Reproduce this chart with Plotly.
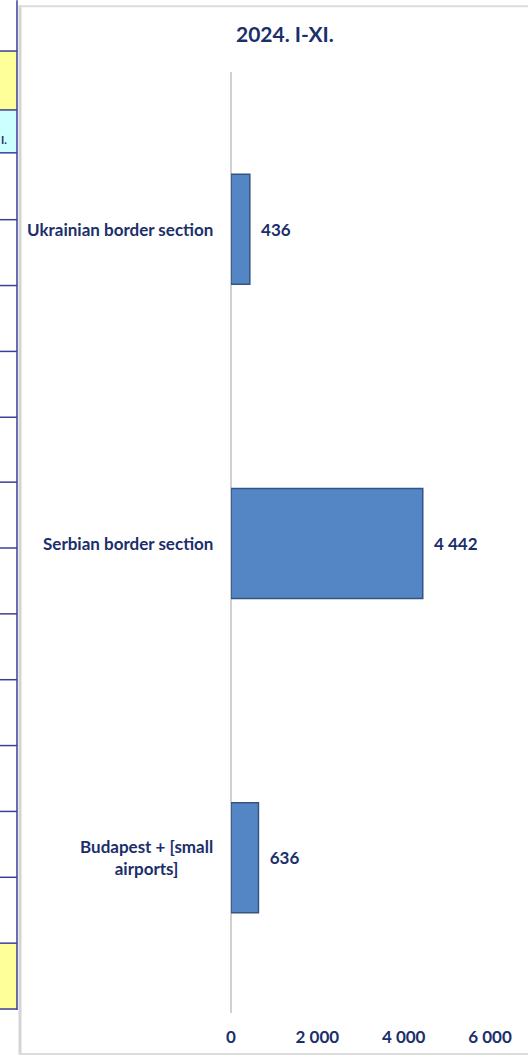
import plotly.graph_objects as go

# Data
categories = ["Ukrainian border section", "Serbian border section", "Budapest + [small<br>airports]"]
values = [436, 4442, 636]
value_labels = ["436", "4 442", "636"]
tick_vals = [0, 2000, 4000, 6000]
tick_text = ["0", "2 000", "4 000", "6 000"]
title_text = "2024. I-XI."

W, H = 528, 1059
L, R, T, B = 231, 490, 72, 1017  # plot area in pixels

NAVY = "#1b2f6b"
FONT = "Lato"

def px(x):
    return (x - L) / (R - L)

def py(y):
    return (B - y) / (B - T)

fig = go.Figure()
fig.add_trace(go.Bar(
    y=categories,
    x=values,
    orientation="h",
    width=0.35,
    marker=dict(color="#5486c6", line=dict(color="#34557f", width=1.5)),
    text=["\u00a0\u00a0" + t for t in value_labels],
    textposition="outside",
    textfont=dict(family=FONT, size=17, color=NAVY, weight="bold"),
    cliponaxis=False,
    hoverinfo="skip",
))

shapes = []
# chart frame (light gray)
shapes.append(dict(type="line", xref="paper", yref="paper",
                   x0=px(20), x1=px(20), y0=py(5), y1=py(1057),
                   line=dict(color="#d4d4d4", width=3), layer="below"))
shapes.append(dict(type="line", xref="paper", yref="paper",
                   x0=px(19), x1=px(530), y0=py(6), y1=py(6),
                   line=dict(color="#dcdcdc", width=2), layer="below"))
shapes.append(dict(type="line", xref="paper", yref="paper",
                   x0=px(19), x1=px(530), y0=py(1056), y1=py(1056),
                   line=dict(color="#dcdcdc", width=2), layer="below"))
# vertical axis line
shapes.append(dict(type="line", xref="paper", yref="paper",
                   x0=0, x1=0, y0=py(72), y1=py(1015),
                   line=dict(color="#d0d0d0", width=2), layer="below"))

# left spreadsheet strip
cell_lines = [51, 110, 153, 220, 286, 352, 418, 483, 549, 615, 681, 747, 813, 879, 945, 1011]
fills = {0: "#ffff99", 1: "#ccffff", 14: "#ffff99"}
for i in range(len(cell_lines) - 1):
    c = fills.get(i)
    if c:
        shapes.append(dict(type="rect", xref="paper", yref="paper",
                           x0=px(-2), x1=px(17), y0=py(cell_lines[i + 1]), y1=py(cell_lines[i]),
                           fillcolor=c, line=dict(width=0), layer="below"))
for yl in cell_lines:
    shapes.append(dict(type="line", xref="paper", yref="paper",
                       x0=px(-2), x1=px(17), y0=py(yl), y1=py(yl),
                       line=dict(color="#3d3d9a", width=1.5), layer="below"))
shapes.append(dict(type="line", xref="paper", yref="paper",
                   x0=px(17), x1=px(17), y0=py(0), y1=py(1012),
                   line=dict(color="#3d3d9a", width=1.5), layer="below"))

annotations = [
    dict(text=title_text, xref="paper", yref="paper", x=px(285), y=py(33),
         xanchor="center", yanchor="middle",
         showarrow=False, font=dict(family=FONT, size=21, color=NAVY, weight="bold")),
    dict(text="I.", xref="paper", yref="paper", x=px(9), y=py(131),
         xanchor="right", showarrow=False, font=dict(family=FONT, size=11, color=NAVY, weight="bold")),
]
# category labels (centered multi-line, right edge near x=213)
for c in categories:
    annotations.append(dict(text=c, xref="paper", yref="y", x=px(215), y=c,
                            xanchor="right", align="center", showarrow=False,
                            font=dict(family=FONT, size=17, color=NAVY, weight="bold")))

fig.update_layout(
    width=W, height=H,
    margin=dict(l=L, r=W - R, t=T, b=H - B),
    paper_bgcolor="white", plot_bgcolor="white",
    showlegend=False,
    font=dict(family=FONT, color=NAVY),
    xaxis=dict(range=[0, 6000], tickvals=tick_vals, ticktext=tick_text,
               showgrid=False, zeroline=False, showline=False,
               tickfont=dict(family=FONT, size=17, color=NAVY, weight="bold"),
               ticklen=0, ticks="", ticklabelstandoff=10),
    yaxis=dict(categoryorder="array", categoryarray=categories[::-1],
               showgrid=False, zeroline=False, showline=False,
               showticklabels=False, ticks=""),
    shapes=shapes,
    annotations=annotations,
)

fig.write_html("out.html", config={"displayModeBar": False},
               post_script="document.body.style.margin='0px';document.body.style.overflow='hidden';")
